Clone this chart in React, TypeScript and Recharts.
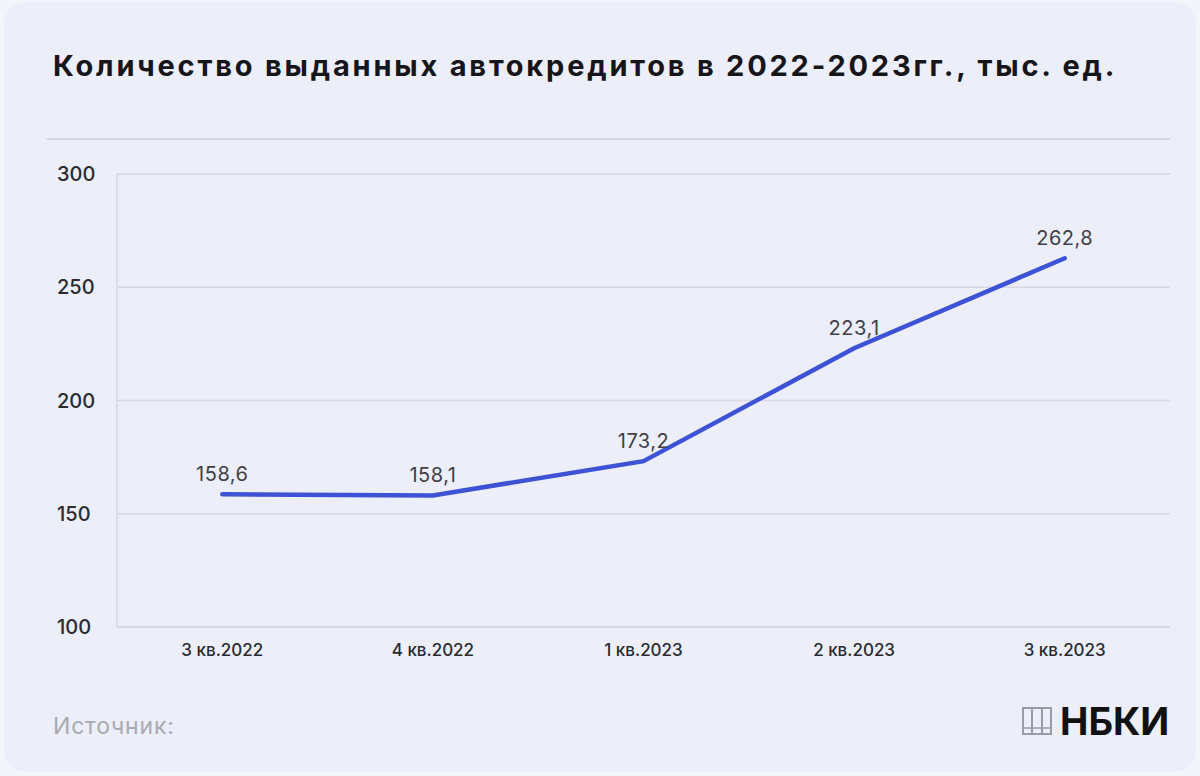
import { CartesianGrid, LabelList, Line, LineChart, XAxis, YAxis } from "recharts";

const quarters = ["3 кв.2022", "4 кв.2022", "1 кв.2023", "2 кв.2023", "3 кв.2023"];
const loans = [158.6, 158.1, 173.2, 223.1, 262.8];
const yTicks = [100, 150, 200, 250, 300];

const data = quarters.map((q, i) => ({ q, v: loans[i] }));

const BG = "#eceef9";
const FONT = "Inter, 'Open Sans', sans-serif";

function YTick({ y, payload }: any) {
  return (
    <text x={57} y={y} dy={7} fontSize={20} fontWeight={500} fill="#2b2b2f" fontFamily={FONT} textAnchor="start">
      {payload.value}
    </text>
  );
}

function XTick({ x, y, payload }: any) {
  return (
    <text x={x} y={y} dy={21} fontSize={17} fontWeight={500} fill="#2b2b2f" fontFamily={FONT} textAnchor="middle">
      {payload.value}
    </text>
  );
}

export default function App() {
  return (
    <div style={{ position: "fixed", left: 0, top: 0, width: 1200, height: 776, background: "#f4f5fb" }}>
      <div
        style={{
          position: "absolute",
          left: 4,
          top: 2,
          width: 1192,
          height: 770,
          borderRadius: 22,
          background: BG,
        }}
      />
      <div
        style={{
          position: "absolute",
          left: 53,
          top: 48,
          fontFamily: FONT,
          fontWeight: 700,
          fontSize: 29,
          color: "#15151a",
          letterSpacing: 2.8,
          whiteSpace: "nowrap",
        }}
      >
        Количество выданных автокредитов в 2022-2023гг., тыс. ед.
      </div>
      <div style={{ position: "absolute", left: 47, top: 138, width: 1123, height: 2, background: "#d3d5e0" }} />
      <div style={{ position: "absolute", left: 0, top: 0 }}>
        <LineChart width={1200} height={700} data={data} margin={{ top: 174, right: 30, left: 57, bottom: 33 }}>
          <CartesianGrid stroke="#d6d8e3" strokeWidth={1.5} vertical={false} />
          <XAxis
            dataKey="q"
            scale="band"
            tickLine={false}
            axisLine={{ stroke: "#d6d8e3", strokeWidth: 1.5 }}
            height={40}
            tick={<XTick />}
            interval={0}
          />
          <YAxis
            domain={[100, 300]}
            ticks={yTicks}
            width={60}
            tickLine={false}
            axisLine={{ stroke: "#d6d8e3", strokeWidth: 1.5 }}
            tick={<YTick />}
          />
          <Line
            dataKey="v"
            type="linear"
            stroke="#3d52d5"
            strokeWidth={4.5}
            strokeLinecap="round"
            dot={false}
            isAnimationActive={false}
          >
            <LabelList
              dataKey="v"
              position="top"
              offset={13}
              fontSize={20}
              letterSpacing={0.5}
              fill="#404046"
              fontFamily={FONT}
              formatter={(v: any) => String(v).replace(".", ",")}
            />
          </Line>
        </LineChart>
      </div>
      <div
        style={{
          position: "absolute",
          left: 53,
          top: 712,
          fontFamily: FONT,
          fontSize: 23,
          letterSpacing: 0.8,
          color: "#a9aab2",
        }}
      >
        Источник:
      </div>
      <div style={{ position: "absolute", left: 1022, top: 702, display: "flex", alignItems: "center", gap: 8 }}>
        <svg width={30} height={30} viewBox="0 0 30 30">
          <rect x={1} y={2} width={28} height={26} fill="none" stroke="#9a9ba3" strokeWidth={2} />
          <line x1={10} y1={2} x2={10} y2={28} stroke="#9a9ba3" strokeWidth={2} />
          <line x1={20} y1={2} x2={20} y2={28} stroke="#9a9ba3" strokeWidth={2} />
          <line x1={1} y1={22} x2={29} y2={22} stroke="#9a9ba3" strokeWidth={1.5} />
        </svg>
        <span style={{ fontFamily: FONT, fontWeight: 700, fontSize: 38, color: "#111", lineHeight: "38px" }}>НБКИ</span>
      </div>
    </div>
  );
}
